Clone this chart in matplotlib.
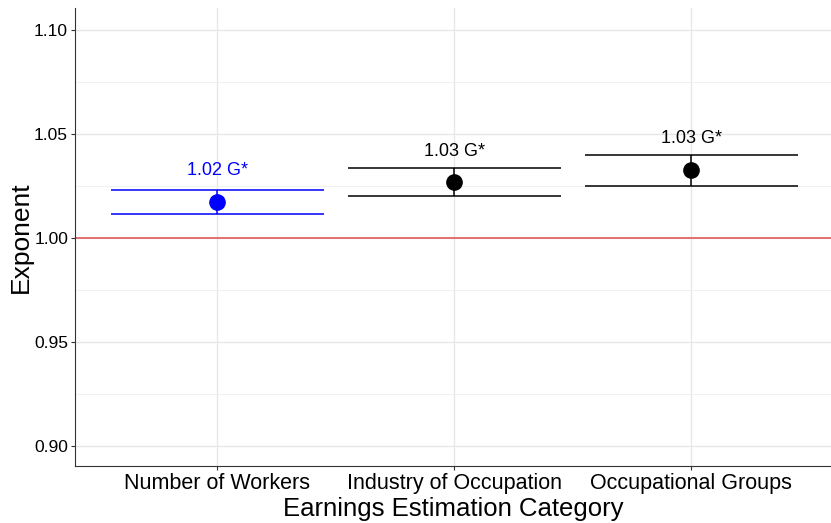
import matplotlib.pyplot as plt
import numpy as np

plt.rcParams['font.family'] = ['Liberation Sans', 'DejaVu Sans']

# dados
categorias = ["Number of Workers", "Industry of Occupation", "Occupational Groups"]
estimativa = [1.0173, 1.0268, 1.0326]
limite_inf = [1.0115, 1.0201, 1.0249]
limite_sup = [1.0230, 1.0336, 1.0398]
rotulos = ["1.02 G*", "1.03 G*", "1.03 G*"]
cores = ["#0000ff", "#000000", "#000000"]

fig = plt.figure(figsize=(8.31, 5.23), dpi=100)
ax = fig.add_axes([75/831, 57/523, (831-75)/831, (466-8)/523])

x = np.arange(1, len(categorias) + 1)

# grade estilo ggplot
ax.set_yticks(np.arange(0.90, 1.101, 0.05))
ax.set_yticks(np.arange(0.925, 1.10, 0.05), minor=True)
ax.grid(True, which="major", color="#e6e6e6", linewidth=0.9)
ax.grid(True, which="minor", axis="y", color="#eeeeee", linewidth=0.6)
ax.set_axisbelow(True)

ax.axhline(1.0, color="#e05a5a", linewidth=1.2, zorder=2)  # linha de referencia

for i in range(len(x)):
    c = cores[i]
    ax.hlines([limite_inf[i], limite_sup[i]], x[i] - 0.45, x[i] + 0.45, color=c, linewidth=1.1, zorder=3)
    ax.vlines(x[i], limite_inf[i], limite_sup[i], color=c, linewidth=1.1, zorder=3)
    ax.plot(x[i], estimativa[i], "o", color=c, markersize=11, zorder=4)
    ax.text(x[i], estimativa[i] + 0.015, rotulos[i], color=c, ha="center", va="center", fontsize=13)

ax.set_xlim(0.4, 3.59)
ax.set_ylim(0.8905, 1.1105)
ax.set_xticks(x)
ax.set_xticklabels(categorias, fontsize=15.5)
ax.set_yticklabels(["0.90", "0.95", "1.00", "1.05", "1.10"], fontsize=12.5)
ax.tick_params(which="minor", length=0)
ax.tick_params(which="major", length=3, color="#333333", pad=2)

ax.spines["top"].set_visible(False)
ax.spines["right"].set_visible(False)
ax.spines["left"].set_color("#333333")
ax.spines["bottom"].set_color("#333333")

ax.set_xlabel("Earnings Estimation Category", fontsize=18.5, labelpad=2.5)
ax.set_ylabel("Exponent", fontsize=19)
ax.yaxis.set_label_coords(-21/756 * 2.0, 0.5)

plt.savefig("out.png", dpi=100)
